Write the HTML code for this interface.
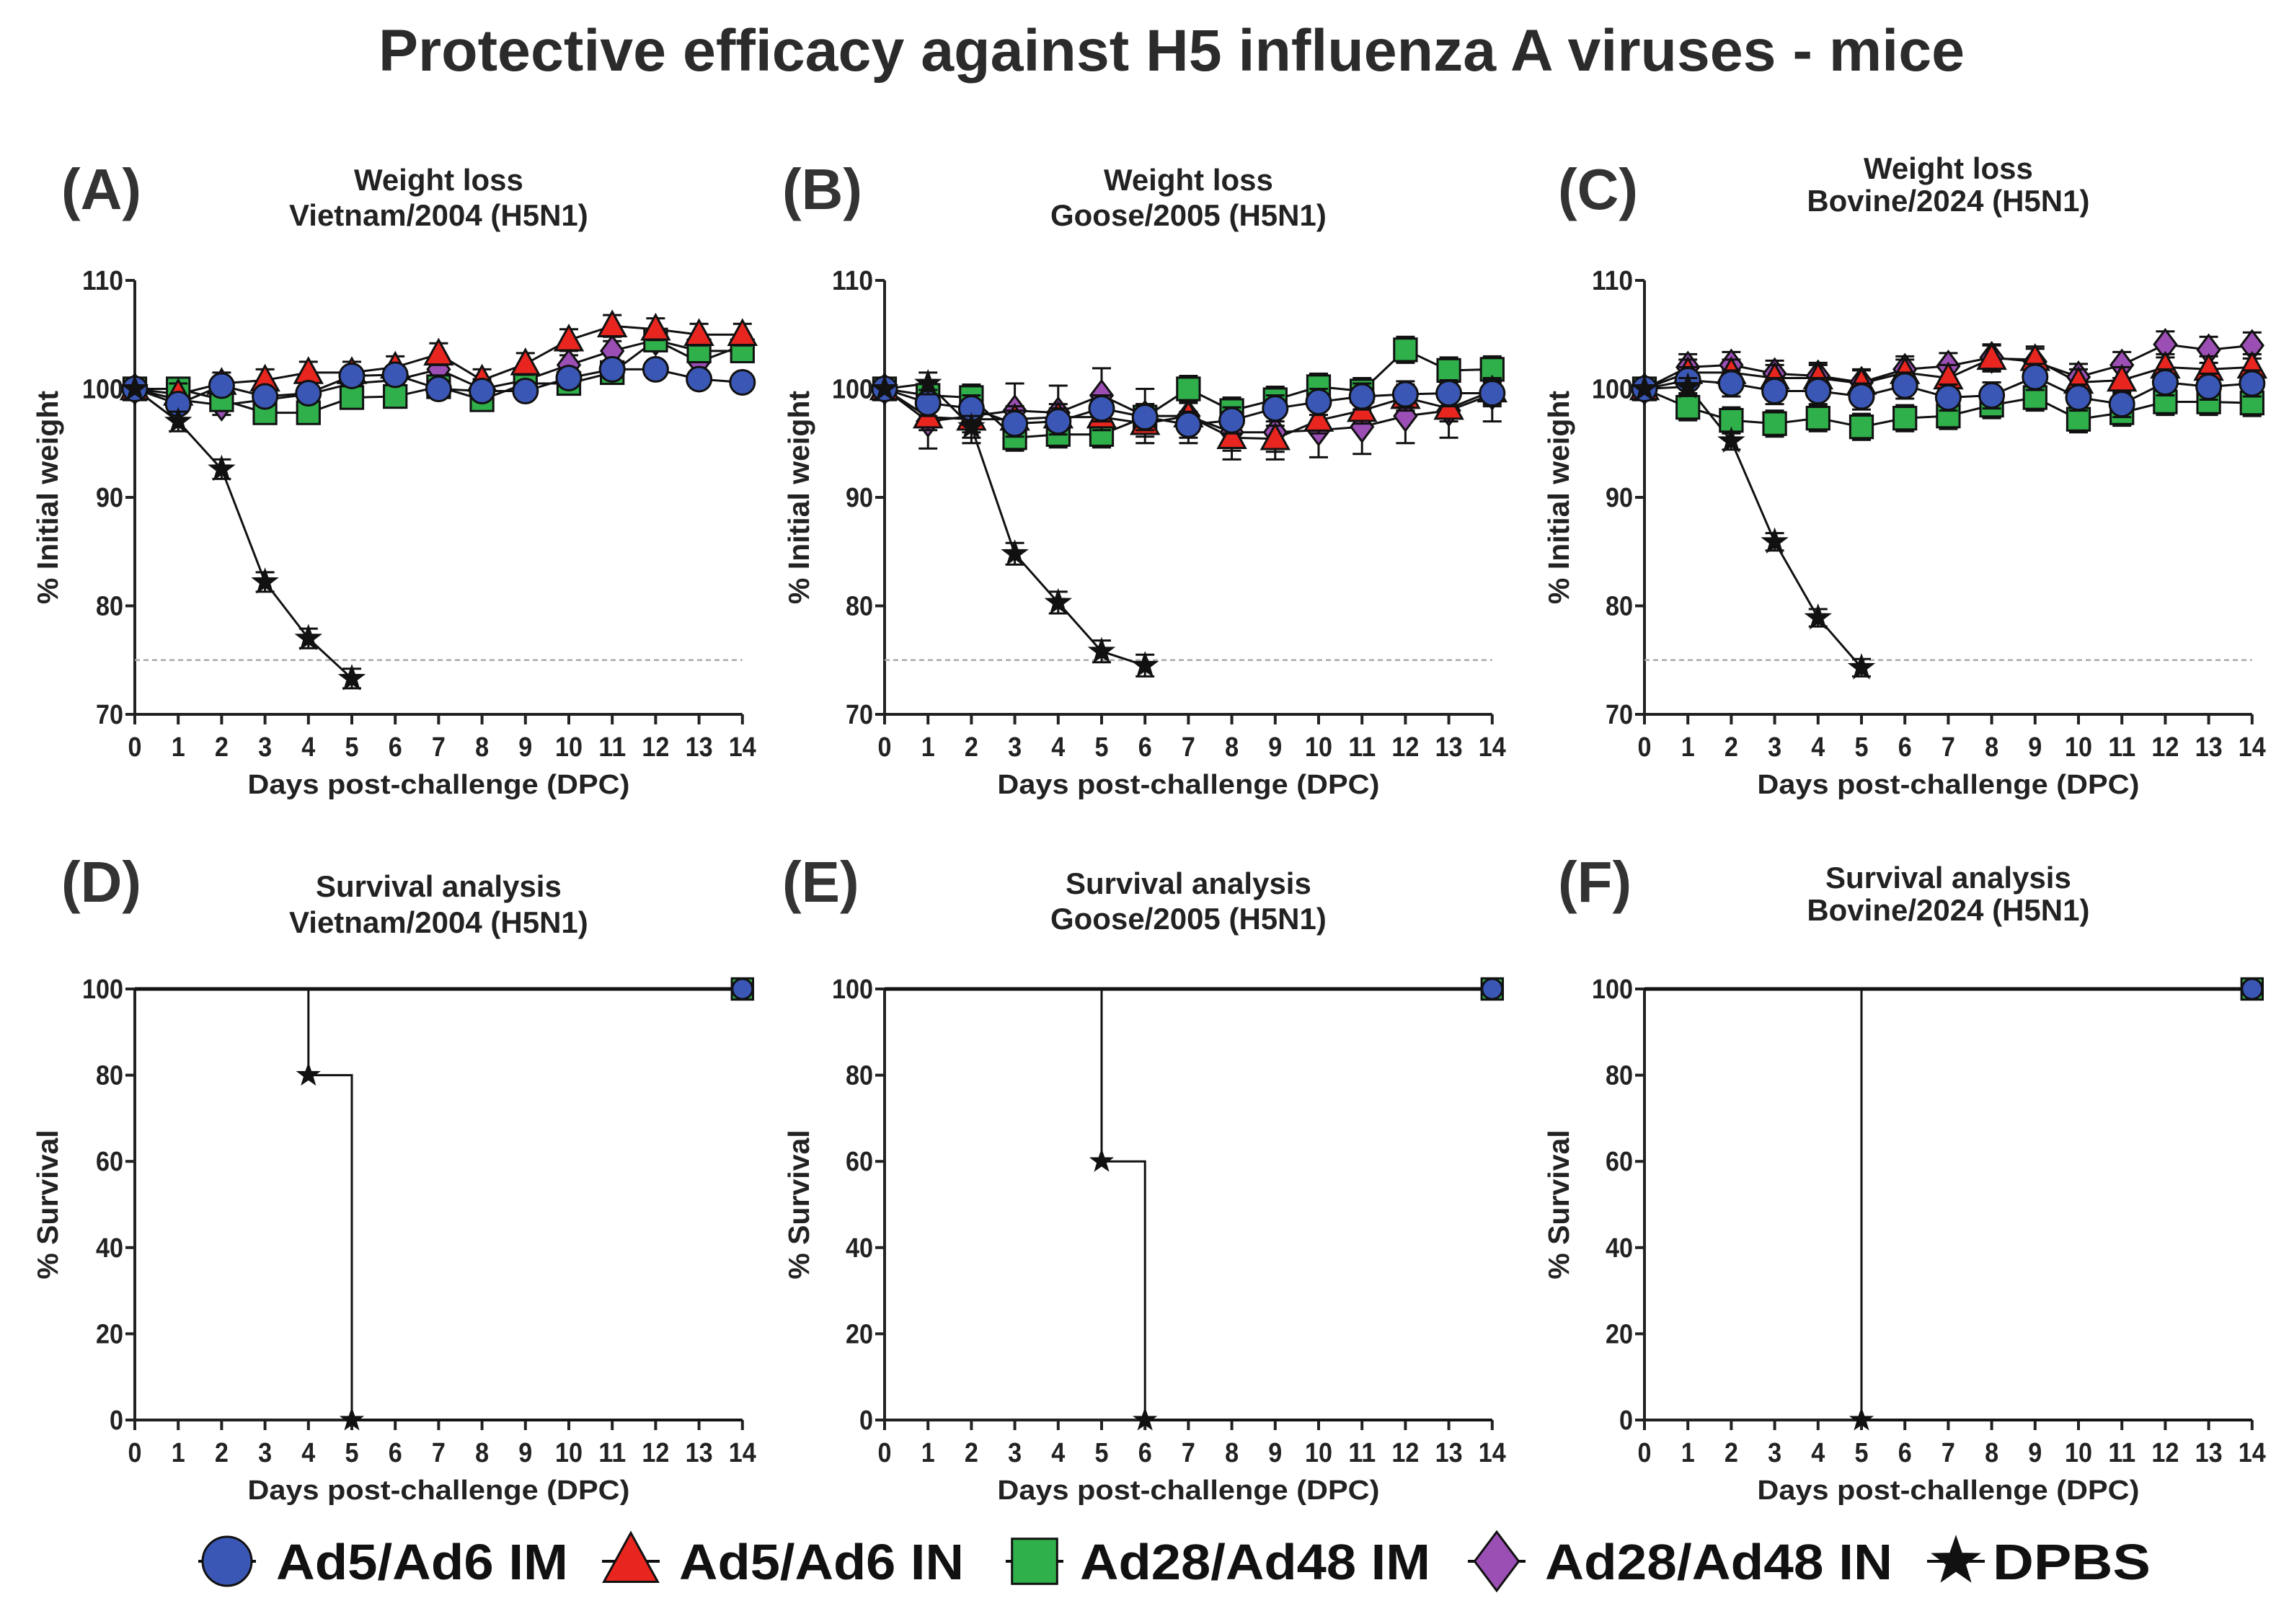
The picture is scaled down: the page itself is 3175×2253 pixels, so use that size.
<!DOCTYPE html>
<html><head><meta charset="utf-8"><style>
html,body{margin:0;padding:0;background:#fff;}
svg{display:block;font-family:"Liberation Sans",Arial,sans-serif;font-weight:bold;}
</style></head><body>
<svg id="fig" width="3175" height="2253" viewBox="0 0 3175 2253" xmlns="http://www.w3.org/2000/svg">
<text x="1625" y="98" font-size="82" text-anchor="middle" fill="#2b2b2b" textLength="2200" lengthAdjust="spacingAndGlyphs">Protective efficacy against H5 influenza A viruses - mice</text>
<g id="legend"></g>
</svg>
<script>
// ---- data ----
const days = [0,1,2,3,4,5,6,7,8,9,10,11,12,13,14];
const seriesNames = ["Ad5/Ad6 IM","Ad5/Ad6 IN","Ad28/Ad48 IM","Ad28/Ad48 IN","DPBS"];
const weightTicks = [70,80,90,100,110];
const survivalTicks = [0,20,40,60,80,100];
// Panel A – Vietnam/2004
const aIM  = [100,98.6,100.3,99.3,99.6,101.2,101.3,100,99.8,99.8,101,101.8,101.8,100.9,100.6];
const aIN  = [100,99.5,100.5,100.8,101.5,101.5,102,103.2,100.8,102.3,104.5,105.8,105.5,105,105];
const aIM2 = [100,100,99,97.8,97.8,99.2,99.3,100.2,99,100.5,100.5,101.5,104.5,103.5,103.5];
const aIN2 = [100,99,98.5,99,99.5,100.5,100.8,101.8,100,100.8,102.2,103.5,104.5,102.5,104];
const aDPBS = [100,97,92.6,82.2,77,73.3];
const aErr = [0.8,1,0.9,0.9,0.9];
// Panel B – Goose/2005
const bIM  = [100,98.7,98.2,96.8,97,98.2,97.4,96.7,97.1,98.2,98.8,99.3,99.5,99.6,99.6];
const bIN  = [100,97.4,97.2,97.2,97.4,97.4,96.8,97.5,95.5,95.4,97.1,98,99.2,98.2,99.8];
const bIM2 = [100,99.4,99.2,95.5,95.8,95.8,97.4,100,98,99,100.2,99.8,103.6,101.7,101.8];
const bIN2 = [100,97,97.5,98,97.8,99.4,97.5,97.5,96,96,96.2,96.5,97.5,98,99.5];
const bDPBS = [100,100.5,96.5,84.8,80.3,75.8,74.5];
const bErr = [1.2,1.2,1.2,2.5,1];
// Panel C – Bovine/2024
const cIM  = [100,100.8,100.5,99.8,99.8,99.3,100.3,99.2,99.4,101.1,99.2,98.6,100.6,100.2,100.5];
const cIN  = [100,101.5,101.5,101,101,100.5,101.5,101,102.8,102.7,100.6,100.8,102,101.8,102];
const cIM2 = [100,98.3,97.1,96.8,97.3,96.5,97.3,97.5,98.5,99.2,97.2,97.8,98.8,98.8,98.7];
const cIN2 = [100,102,102.2,101.4,101.2,100.6,101.8,102.1,102.9,102.5,101.1,102.2,104.1,103.6,104];
const cDPBS = [100,100.2,95.2,85.9,78.9,74.3];
const cErr = [1.2,1.2,1.2,1.2,0.8];
// Survival (DPBS steps: day, value)
const dSurvDays = [0,4,5]; const dSurvVals = [100,80,0];
const eSurvDays = [0,5,6]; const eSurvVals = [100,60,0];
const fSurvDays = [0,5];   const fSurvVals = [100,0];
const vaccSurv = [100,100];

const colors = ["#3a57b5","#e8251f","#2fb04a","#9b4fb5","#111"];
const NS="http://www.w3.org/2000/svg";
const svg=document.getElementById('fig');
function mk(tag,attrs,parent){const e=document.createElementNS(NS,tag);for(const k in attrs)e.setAttribute(k,attrs[k]);(parent||svg).appendChild(e);return e;}
function marker(kind,cx,cy,s,parent){
  let e;
  if(kind===0){e=mk('circle',{cx:cx,cy:cy,r:s*0.5,fill:colors[0],stroke:'#111','stroke-width':3},parent);}
  else if(kind===1){e=mk('polygon',{points:`${cx},${cy-s*0.58} ${cx+s*0.55},${cy+s*0.42} ${cx-s*0.55},${cy+s*0.42}`,fill:colors[1],stroke:'#111','stroke-width':3},parent);}
  else if(kind===2){e=mk('rect',{x:cx-s*0.46,y:cy-s*0.46,width:s*0.92,height:s*0.92,fill:colors[2],stroke:'#111','stroke-width':3},parent);}
  else if(kind===3){e=mk('polygon',{points:`${cx},${cy-s*0.6} ${cx+s*0.45},${cy} ${cx},${cy+s*0.6} ${cx-s*0.45},${cy}`,fill:colors[3],stroke:'#111','stroke-width':3},parent);}
  else {let p=[];for(let i=0;i<10;i++){const r=i%2?s*0.22:s*0.55;const a=-Math.PI/2+i*Math.PI/5;p.push((cx+r*Math.cos(a)).toFixed(1)+','+(cy+r*Math.sin(a)).toFixed(1));}
    e=mk('polygon',{points:p.join(' '),fill:'#111',stroke:'#111','stroke-width':1},parent);}
  return e;
}
function txt(s,x,y,size,anchor,parent,extra){const t=mk('text',Object.assign({x:x,y:y,'font-size':size,'text-anchor':anchor,fill:'#222'},extra||{}),parent);t.textContent=s;return t;}

function axes(g,x0,dx,yTop,yBot,ticks,vmin,vmax,yTitle,titleX){
  const X=d=>x0+d*dx; const Y=v=>yBot-(v-vmin)/(vmax-vmin)*(yBot-yTop);
  mk('line',{x1:x0,y1:yTop,x2:x0,y2:yBot+2,stroke:'#222','stroke-width':4},g);
  mk('line',{x1:x0-2,y1:yBot,x2:X(14),y2:yBot,stroke:'#222','stroke-width':4},g);
  ticks.forEach(v=>{mk('line',{x1:x0-13,y1:Y(v),x2:x0,y2:Y(v),stroke:'#222','stroke-width':4},g);
    txt(String(v),x0-16,Y(v)+13,38,'end',g,{'textLength':String(v).length*19,'lengthAdjust':'spacingAndGlyphs'});});
  days.forEach(d=>{mk('line',{x1:X(d),y1:yBot,x2:X(d),y2:yBot+14,stroke:'#222','stroke-width':4},g);
    txt(String(d),X(d),yBot+58,38,'middle',g,{'textLength':String(d).length*19,'lengthAdjust':'spacingAndGlyphs'});});
  const yt=txt(yTitle,0,0,41,'middle',g,{transform:`translate(${titleX},${(yTop+yBot)/2}) rotate(-90)`});
  
  
  const xt=txt('Days post-challenge (DPC)',(x0+X(14))/2,yBot+110,38,'middle',g,{textLength:530,lengthAdjust:'spacingAndGlyphs'});
  
  
  return {X,Y};
}
function header(g,letter,lx,ly,t1,t2,cx,y1,y2){
  const l=txt(letter,lx,ly,80,'start',g,{fill:'#333'});
  
  
  const a=txt(t1,cx,y1,42,'middle',g);  
  const b=txt(t2,cx,y2,42,'middle',g);  
}
function weightPanel(name,x0,letter,lx,sub,ty1,ty2,series,dpbs,err,titleX){
  const g=mk('g',{});
  
  
  const dx=60.2;
  header(g,letter,lx,290,'Weight loss',sub,x0+7*dx,ty1,ty2);
  const {X,Y}=axes(g,x0,dx,389,991,weightTicks,70,110,'% Initial weight',titleX);
  mk('line',{x1:x0,y1:Y(75),x2:X(14),y2:Y(75),stroke:'#aaa','stroke-width':2.5,'stroke-dasharray':'7,5'},g);
  const all=series.concat([dpbs]);
  all.forEach((vals,si)=>{
    const pts=vals.map((v,i)=>X(days[i])+','+Y(v)).join(' ');
    const pl=mk('polyline',{points:pts,fill:'none',stroke:'#111','stroke-width':3},g);
    
    
  });
  [3,2,1,0,4].forEach(si=>{
    all[si].forEach((v,i)=>{
      const e=err[si]; const x=X(days[i]);
      if(i>0){mk('line',{x1:x,y1:Y(v+e),x2:x,y2:Y(v-e),stroke:'#111','stroke-width':3},g);
        mk('line',{x1:x-13,y1:Y(v+e),x2:x+13,y2:Y(v+e),stroke:'#111','stroke-width':3},g);
        mk('line',{x1:x-13,y1:Y(v-e),x2:x+13,y2:Y(v-e),stroke:'#111','stroke-width':3},g);}
      const m=marker(si,x,Y(v),34,g);
      
      
    });
  });
}
function survPanel(name,x0,letter,lx,sub,ty1,ty2,sd,sv,titleX){
  const g=mk('g',{});
  
  
  const dx=60.2;
  header(g,letter,lx,1251,'Survival analysis',sub,x0+7*dx,ty1,ty2);
  const {X,Y}=axes(g,x0,dx,1372,1970,survivalTicks,0,100,'% Survival',titleX);
  const vl=mk('line',{x1:X(0),y1:Y(vaccSurv[0]),x2:X(14),y2:Y(vaccSurv[1]),stroke:'#111','stroke-width':5},g);
  
  
  let p=`M${X(sd[0])},${Y(sv[0])}`;
  for(let i=1;i<sd.length;i++){p+=` H${X(sd[i])} V${Y(sv[i])}`;}
  p+=` H${X(14)}`;
  const st=mk('path',{d:p,fill:'none',stroke:'#111','stroke-width':3},g);
  
  
  for(let i=1;i<sd.length;i++){const m=marker(4,X(sd[i]),Y(sv[i]),30,g);
    
    }
  const sq=marker(2,X(14),Y(100),32,g);
  
  
  const ci=marker(0,X(14),Y(100),28,g);
  
  
}

weightPanel('panel-a',187,'(A)',85,'Vietnam/2004 (H5N1)',264,313,[aIM,aIN,aIM2,aIN2],aDPBS,aErr,80);
weightPanel('panel-b',1227,'(B)',1085,'Goose/2005 (H5N1)',264,313,[bIM,bIN,bIM2,bIN2],bDPBS,bErr,1122);
weightPanel('panel-c',2281,'(C)',2161,'Bovine/2024 (H5N1)',248,293,[cIM,cIN,cIM2,cIN2],cDPBS,cErr,2176);
survPanel('panel-d',187,'(D)',85,'Vietnam/2004 (H5N1)',1244,1294,dSurvDays,dSurvVals,80);
survPanel('panel-e',1227,'(E)',1085,'Goose/2005 (H5N1)',1240,1289,eSurvDays,eSurvVals,1122);
survPanel('panel-f',2281,'(F)',2161,'Bovine/2024 (H5N1)',1232,1277,fSurvDays,fSurvVals,2176);

// legend
const lg=document.getElementById('legend');
const legMarkX=[315,875,1435,2076,2713];
const legTextX=[383,942,1498,2143,2764];
const legTextW=[405,395,486,482,219];
const LY=2166;
seriesNames.forEach((n,i)=>{
  const it=mk('g',{},lg);
  
  
  mk('line',{x1:legMarkX[i]-40,y1:LY,x2:legMarkX[i]+40,y2:LY,stroke:'#111','stroke-width':4},it);
  marker(i,legMarkX[i],LY,i===4?64:68,it);
  txt(n,legTextX[i],LY+25,70,'start',it,{fill:'#111',textLength:legTextW[i],lengthAdjust:'spacingAndGlyphs'});
});
</script>
</body></html>
